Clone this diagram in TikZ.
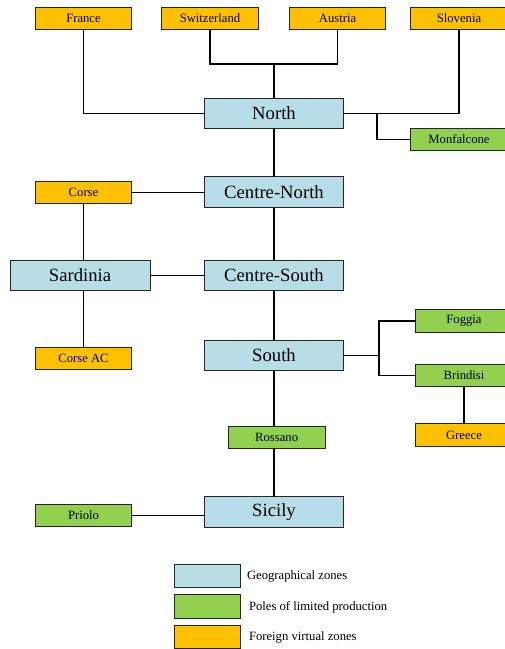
\documentclass[tikz,border=0pt]{standalone}
\usepackage{fontspec}
\setmainfont{Liberation Serif}
\usepackage{tikz}
\usetikzlibrary{positioning}
\definecolor{geoblue}{RGB}{183,222,232}
\definecolor{polegreen}{RGB}{146,208,80}
\definecolor{foreignorange}{RGB}{255,192,0}
\tikzset{
    every node/.style={inner sep=0pt, outer sep=0pt, draw=black!85, line width=0.6pt}, % boxes
    link/.style={line width=1.15pt, black}, % connectors between zones
    }

\begin{document}
\begin{tikzpicture}[x=0.75pt, y=-0.75pt, zonebox/.style={fill=geoblue, minimum width=104pt, minimum height=23pt, font=\fontsize{14}{16}\selectfont}, polebox/.style={fill=polegreen, minimum width=72.5pt, minimum height=17pt, font=\fontsize{9.5}{11}\selectfont}, foreignbox/.style={fill=foreignorange, minimum width=72.5pt, minimum height=17pt, font=\fontsize{9.5}{11}\selectfont}, keybox/.style={minimum width=49.5pt, minimum height=17.5pt}, keytext/.style={draw=none, anchor=west, font=\fontsize{9.5}{11}\selectfont}]
\useasboundingbox (0,0) rectangle (504,649);
\node[zonebox] (north) at (274,113.5) {North};
\node[zonebox, below of=north, node distance=59pt] (centrenorth) {Centre-North};
\node[zonebox, below of=centrenorth, node distance=62.5pt] (centresouth) {Centre-South};
\node[zonebox, below of=centresouth, node distance=60pt] (south) {South};
\node[polebox, below of=south, node distance=61.5pt, xshift=2pt] (rossano) {Rossano};
\node[zonebox, below of=rossano, node distance=56pt, xshift=-2pt] (sicily) {Sicily};
\node[zonebox, minimum width=105pt] (sardinia) at (80,275.5) {Sardinia};

\node[foreignbox] (france) at (83.5,18.5) {France};
\node[foreignbox] (switzerland) at (210,18.5) {Switzerland};
\node[foreignbox] (austria) at (337.5,18.5) {Austria};
\node[foreignbox] (slovenia) at (459,18.5) {Slovenia};
\node[polebox] (monfalcone) at (459,139.5) {Monfalcone};
\node[foreignbox] (corse) at (83.5,192.5) {Corse};
\node[foreignbox] (corseac) at (83.5,358.5) {Corse AC};
\node[polebox] (foggia) at (464,321) {Foggia};
\node[polebox] (brindisi) at (464,375.5) {Brindisi};
\node[foreignbox] (greece) at (464,435) {Greece};
\node[polebox] (priolo) at (83.5,515.5) {Priolo};

\coordinate (alpsjoin) at (274,64);
\coordinate (monjoin) at (377,113.5);
\coordinate (southjoin) at (379,355.5);

\draw[link] (france) |- (north.west)
(switzerland) |- (alpsjoin) -| (austria)
(alpsjoin) -- (north)
(slovenia) |- (north.east)
(monjoin) |- (monfalcone.west)
(north) -- (centrenorth)
(centrenorth) -- (centresouth)
(centresouth) -- (south)
(corse) -- (centrenorth.west |- corse)
(corse) -- (corse |- sardinia.north)
(corseac) -- (corseac |- sardinia.south)
(sardinia) -- (centresouth)
(south.east) -- (southjoin)
(southjoin) |- (foggia.west)
(southjoin) |- (brindisi.west)
(brindisi) -- (greece)
(south) -- (south |- rossano.north)
(rossano.south -| sicily) -- (sicily)
(priolo) -- (sicily.west |- priolo);

% legend
\node[keybox, fill=geoblue] (keyzone) at (207,576) {};
\node[keybox, fill=polegreen] (keypole) at (207,606.5) {};
\node[keybox, fill=foreignorange] (keyforeign) at (207,637) {};
\node[keytext] at (247,576) {Geographical zones};
\node[keytext] at (249,607) {Poles of limited production};
\node[keytext] at (249,637) {Foreign virtual zones};
\end{tikzpicture}
\end{document}
